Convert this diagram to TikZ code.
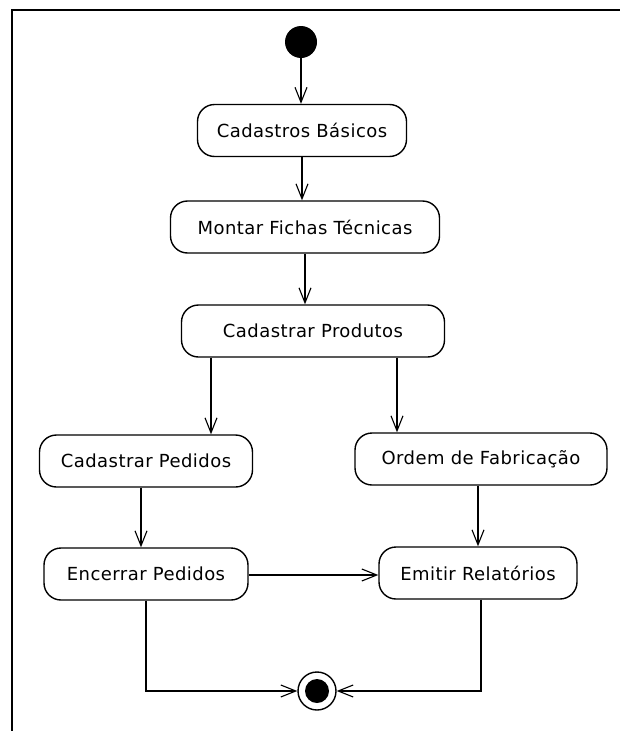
\documentclass[tikz,border=0pt]{standalone}
\usepackage{fontspec}
\setmainfont{DejaVu Sans}[LetterSpace=2.5]
\usetikzlibrary{arrows.meta,calc}
\tikzset{
  act/.style={draw, line width=1.4pt, rounded corners=17pt, minimum height=52pt,
    inner sep=0pt, font=\fontsize{18}{20}\selectfont},
  flow/.style={line width=1.4pt, -{Straight Barb[length=15pt,width=12pt,line width=1.1pt]}},
}
\begin{document}
\begin{tikzpicture}[x=1pt,y=-1pt]
\useasboundingbox[fill=white] (0,0) rectangle (620,731);
\draw[line width=2.5pt] (12,731) -- (12,10) -- (620,10);

\node[circle, fill, minimum size=32pt, inner sep=0pt] (start) at (301,42) {};
\node[act, minimum width=209pt] (cb)   at (302,130.5) {Cadastros Básicos};
\node[act, minimum width=269pt] (mf)   at (305,227)   {Montar Fichas Técnicas};
\node[act, minimum width=263pt] (cp)   at (313,331)   {Cadastrar Produtos};
\node[act, minimum width=213pt] (cped) at (146,461)   {Cadastrar Pedidos};
\node[act, minimum width=252pt] (of)   at (481,459)   {Ordem de Fabricação};
\node[act, minimum width=204pt] (ep)   at (146,574)   {Encerrar Pedidos};
\node[act, minimum width=198pt] (er)   at (478,573)   {Emitir Relatórios};
\node[circle, draw, line width=1.4pt, minimum size=38pt, inner sep=0pt] (end) at (317,691) {};
\node[circle, fill, minimum size=24pt, inner sep=0pt] (endin) at (end) {};

\draw[flow] (start.south) -- (start.south |- cb.north);
\draw[flow] (cb.south) -- (cb.south |- mf.north);
\draw[flow] (mf.south) -- (mf.south |- cp.north);
\draw[flow] ([xshift=-102pt]cp.south) -- ([xshift=-102pt]cp.south |- cped.north);
\draw[flow] ([xshift=84pt]cp.south) -- ([xshift=84pt]cp.south |- of.north);
\draw[flow] ([xshift=-5pt]cped.south) -- ([xshift=-5pt]cped.south |- ep.north);
\draw[flow] ([xshift=-3pt]of.south) -- ([xshift=-3pt]of.south |- er.north);
\draw[flow] ([yshift=-1pt]ep.east) -- ([yshift=-1pt]ep.east -| er.west);
\draw[flow] (ep.south) |- (end.west);
\draw[flow] ([xshift=3pt]er.south) |- (end.east);
\end{tikzpicture}
\end{document}
